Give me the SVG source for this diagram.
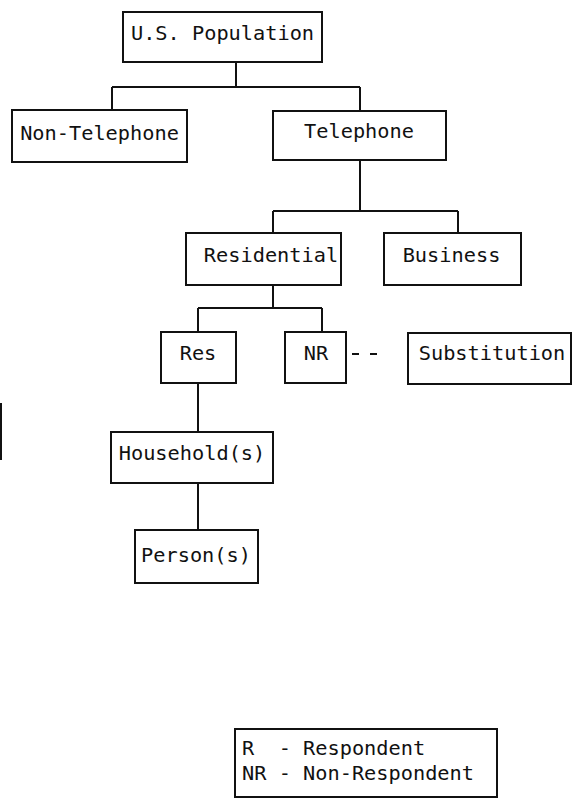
<svg xmlns="http://www.w3.org/2000/svg" width="583" height="806" viewBox="0 0 583 806">
<style>
.box{fill:none;stroke:#111;stroke-width:2}
.c{fill:none;stroke:#111;stroke-width:2}
text{font-family:"DejaVu Sans Mono","Liberation Mono",monospace;font-size:20.3px;fill:#111}
.m{text-anchor:middle}
</style>
<rect width="583" height="806" fill="#fff"/>
<g id="connectors">
<path class="c" d="M236 62V87M112 87H360M112 87V110M360 87V111"/>
<path class="c" d="M360 160V211M273 211H458M273 211V233M458 211V233"/>
<path class="c" d="M273 285V308M198 308H322M198 308V332M322 308V332"/>
<path class="c" d="M198 383V432M198 483V530"/>
<line class="c" x1="352" y1="354" x2="378" y2="354" stroke-dasharray="7 11"/>
<line class="c" x1="1" y1="403" x2="1" y2="460"/>
</g>
<g id="us"><rect class="box" x="123" y="12" width="199" height="50"/><text class="m" x="222.5" y="40">U.S. Population</text></g>
<g id="nontel"><rect class="box" x="12" y="110" width="175" height="52"/><text class="m" x="99.5" y="140">Non-Telephone</text></g>
<g id="tel"><rect class="box" x="273" y="111" width="173" height="49"/><text class="m" x="359" y="138">Telephone</text></g>
<g id="res"><rect class="box" x="186" y="233" width="155" height="52"/><text class="m" x="271" y="262">Residential</text></g>
<g id="bus"><rect class="box" x="384" y="233" width="137" height="52"/><text class="m" x="451.5" y="262">Business</text></g>
<g id="resp"><rect class="box" x="161" y="332" width="75" height="51"/><text class="m" x="198" y="360">Res</text></g>
<g id="nr"><rect class="box" x="285" y="332" width="61" height="51"/><text class="m" x="316" y="360">NR</text></g>
<g id="subst"><rect class="box" x="408" y="333" width="163" height="51"/><text class="m" x="492" y="360">Substitution</text></g>
<g id="household"><rect class="box" x="111" y="432" width="162" height="51"/><text class="m" x="192" y="460">Household(s)</text></g>
<g id="person"><rect class="box" x="135" y="530" width="123" height="53"/><text class="m" x="196" y="562">Person(s)</text></g>
<g id="legend"><rect class="box" x="235" y="729" width="262" height="68"/><text x="242" y="755" xml:space="preserve">R  - Respondent</text><text x="242" y="780">NR - Non-Respondent</text></g>
</svg>
